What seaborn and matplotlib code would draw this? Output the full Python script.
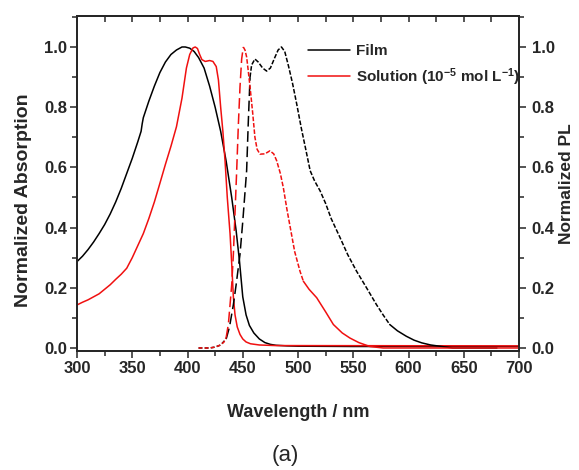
import numpy as np
import pandas as pd
import seaborn as sns
from matplotlib import pyplot as plt
from matplotlib.ticker import MultipleLocator

# absorption, film
wl_abs_film = [300, 305, 310, 315, 320, 325, 330, 335, 340, 345, 350, 355, 358, 359, 360, 365, 370, 375,
               380, 385, 390, 395, 398, 402, 406, 410, 415, 420, 425, 430, 435, 440, 444, 447, 450, 453,
               456, 460, 465, 470, 475, 480, 490, 500, 550, 600, 650, 700]
abs_film = [0.287, 0.305, 0.327, 0.352, 0.38, 0.41, 0.445, 0.485, 0.53, 0.58, 0.63, 0.685, 0.72, 0.745, 0.765,
            0.82, 0.87, 0.915, 0.95, 0.975, 0.99, 1.0, 1.0, 0.996, 0.985, 0.965, 0.93, 0.87, 0.80, 0.72,
            0.62, 0.50, 0.39, 0.29, 0.17, 0.11, 0.075, 0.05, 0.03, 0.018, 0.012, 0.009, 0.007, 0.006,
            0.005, 0.005, 0.005, 0.005]

# absorption, solution
wl_abs_sol = [300, 305, 310, 315, 320, 325, 330, 335, 340, 345, 350, 355, 360, 365, 370, 375, 380, 385,
              390, 395, 399, 402, 405, 407, 409, 411, 413, 416, 420, 423, 426, 428, 430, 432, 434, 436,
              438.5, 440, 441.5, 443, 445, 447.5, 450, 453, 457, 465, 480, 700]
abs_sol = [0.143, 0.152, 0.16, 0.17, 0.18, 0.195, 0.21, 0.228, 0.245, 0.265, 0.30, 0.34, 0.38, 0.43, 0.485,
           0.547, 0.61, 0.67, 0.735, 0.83, 0.93, 0.975, 0.997, 1.0, 0.995, 0.975, 0.958, 0.952, 0.955,
           0.952, 0.935, 0.89, 0.80, 0.72, 0.62, 0.50, 0.38, 0.28, 0.17, 0.11, 0.07, 0.045, 0.03, 0.02,
           0.014, 0.01, 0.008, 0.007]

# PL, film
wl_pl_film = [410, 420, 425, 430, 435, 438, 441.5, 444, 447.5, 450, 453.5, 455, 456.6, 458, 461, 464, 468,
              471.6, 475, 479, 482, 485, 488, 491.5, 495, 498.8, 503, 507, 511, 515, 520, 525, 530, 538,
              545, 553, 562, 571, 577, 583, 590, 598, 605, 612, 620, 630, 640, 680]
pl_film = [0.0, 0.0, 0.003, 0.01, 0.03, 0.07, 0.144, 0.21, 0.311, 0.42, 0.589, 0.75, 0.90, 0.94, 0.96, 0.95,
           0.93, 0.92, 0.93, 0.965, 0.99, 1.0, 0.985, 0.935, 0.88, 0.811, 0.73, 0.66, 0.589, 0.555, 0.522,
           0.48, 0.43, 0.367, 0.31, 0.255, 0.2, 0.144, 0.11, 0.078, 0.057, 0.039, 0.026, 0.017, 0.01,
           0.005, 0.0, 0.0]

# PL, solution
wl_pl_sol = [410, 420, 425, 430, 433, 435, 437, 438.5, 440, 441.5, 443, 444.5, 446, 447.5, 449, 450.5, 452,
             453.5, 455, 456.6, 459, 461, 463, 465.6, 470, 474.6, 478, 480.7, 484, 486.7, 490, 493, 497,
             501.8, 504.8, 510, 516.9, 525, 532, 540, 547, 555, 565, 577, 700]
pl_sol = [0.0, 0.0, 0.003, 0.01, 0.02, 0.035, 0.08, 0.144, 0.21, 0.311, 0.45, 0.589, 0.74, 0.867, 0.96, 1.0,
          0.99, 0.967, 0.92, 0.867, 0.78, 0.70, 0.66, 0.644, 0.645, 0.655, 0.645, 0.622, 0.58, 0.533, 0.46,
          0.40, 0.32, 0.255, 0.222, 0.195, 0.167, 0.12, 0.078, 0.05, 0.033, 0.018, 0.005, 0.0, 0.0]

black = '#000000'
red = '#f01010'

sns.set_style("ticks")
plt.rcParams['font.family'] = ['Liberation Sans', 'DejaVu Sans']
plt.rcParams['mathtext.fontset'] = 'custom'
plt.rcParams['mathtext.bf'] = 'Liberation Sans:bold'
plt.rcParams['mathtext.rm'] = 'Liberation Sans:bold'
plt.rcParams['mathtext.default'] = 'bf'

fig = plt.figure(figsize=(5.79, 4.70), dpi=100)
ax = fig.add_axes([0.133, 0.2532, 0.7634, 0.7128])
ax2 = ax.twinx()

sns.lineplot(x=wl_abs_film, y=abs_film, ax=ax, color=black, lw=1.1, sort=False, estimator=None, label='Film')
sns.lineplot(x=wl_abs_sol, y=abs_sol, ax=ax, color=red, lw=1.1, sort=False, estimator=None,
             label='Solution (10$^{-5}$ mol L$^{-1}$)')


def pl_segments(wl, val, cuts, color):
    d = pd.DataFrame({'wl': wl, 'val': val})
    styles = [(0, (2.5, 1.5)), (0, (7, 3)), (0, (3, 1.2)), '-']
    for i in range(len(cuts) - 1):
        part = d[(d.wl >= cuts[i]) & (d.wl <= cuts[i + 1])]
        sns.lineplot(data=part, x='wl', y='val', ax=ax2, color=color, lw=1.1, sort=False,
                     estimator=None, linestyle=styles[i], legend=False)


pl_segments(wl_pl_film, pl_film, [410, 435, 456.6, 583, 680], black)
pl_segments(wl_pl_sol, pl_sol, [410, 435, 450.5, 504.8, 700], red)

ax.set_xlim(300, 700)
ax.set_ylim(-0.01, 1.103)
ax2.set_ylim(-0.01, 1.103)

ax.xaxis.set_major_locator(MultipleLocator(50))
ax.xaxis.set_minor_locator(MultipleLocator(25))
for a in (ax, ax2):
    a.yaxis.set_major_locator(MultipleLocator(0.2))
    a.yaxis.set_minor_locator(MultipleLocator(0.1))
    a.yaxis.set_major_formatter(plt.FormatStrFormatter('%.1f'))
    a.tick_params(which='major', direction='out', length=5, width=1.1, labelsize=12, pad=2)
    a.tick_params(which='minor', direction='out', length=3.5, width=1.1)
    for s in a.spines.values():
        s.set_linewidth(1.3)
ax2.tick_params(axis='y', pad=4)

top = ax.secondary_xaxis('top')
top.xaxis.set_major_locator(MultipleLocator(25))
top.tick_params(direction='in', length=4, width=1.1, labeltop=False)
top.spines['top'].set_linewidth(1.3)

for lab in ax.get_xticklabels() + ax.get_yticklabels() + ax2.get_yticklabels():
    lab.set_fontweight('bold')

ax.set_xlabel('Wavelength / nm', fontsize=13, fontweight='bold')
ax.set_ylabel('Normalized Absorption', fontsize=14, fontweight='bold')
ax2.set_ylabel('Normalized PL', fontsize=12.5, fontweight='bold')
ax.xaxis.set_label_coords(0.5, -0.158)
ax.yaxis.set_label_coords(-0.102, 0.45)
ax2.yaxis.set_label_coords(1.091, 0.50)

ax.legend(loc='upper left', bbox_to_anchor=(0.523, 0.915), frameon=False, borderpad=0, borderaxespad=0,
          handlelength=2.75, handletextpad=0.35, labelspacing=0.5,
          prop={'family': 'Liberation Sans', 'weight': 'bold', 'size': 11})

fig.text(285 / 579, 1 - 455 / 470, '(a)', ha='center', va='center', fontsize=16)

plt.savefig('out.png', dpi=100)
